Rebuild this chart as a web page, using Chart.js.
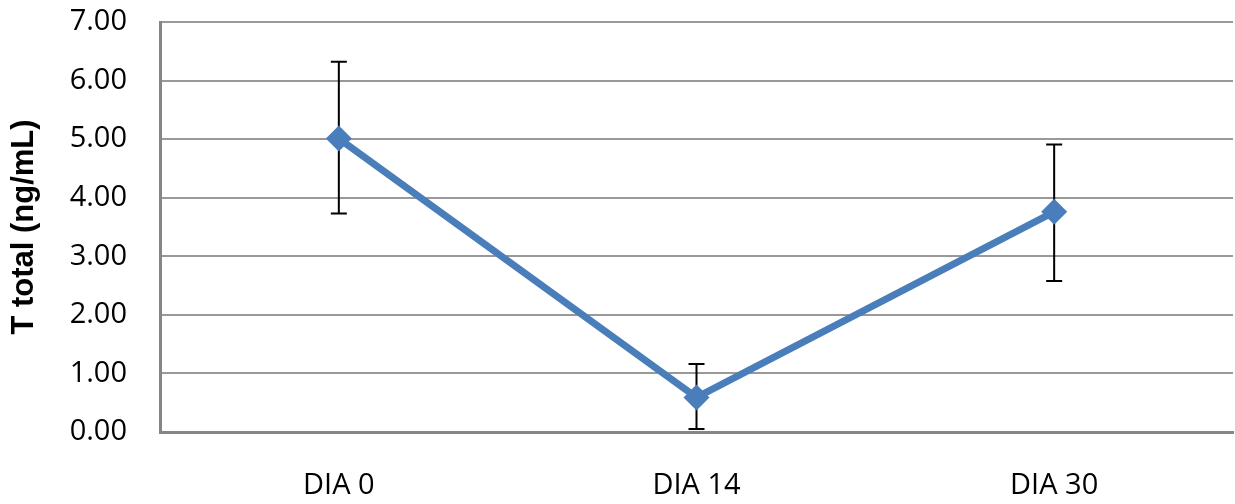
<!DOCTYPE html>
<html>
<head>
<meta charset="utf-8">
<script src="https://cdn.jsdelivr.net/npm/chart.js@4.4.0/dist/chart.umd.min.js"></script>
<style>
  html, body { margin: 0; padding: 0; background: #fff; }
  #wrap { width: 1235px; height: 504px; }
</style>
</head>
<body>
<div id="wrap"><canvas id="chart"></canvas></div>
<script>
const days = ['DIA 0', 'DIA 14', 'DIA 30'];
const meanValues = [5.01, 0.59, 3.76];
const upperValues = [6.32, 1.16, 4.91];
const lowerValues = [3.73, 0.05, 2.58];
const yTicks = [0, 1, 2, 3, 4, 5, 6, 7];

// draws the error bars under the line using the chart's own scales
const errorBars = {
    id: 'errorBars',
    beforeDatasetsDraw(chart) {
        const ctx = chart.ctx;
        const x = chart.scales.x;
        const y = chart.scales.y;
        ctx.save();
        ctx.strokeStyle = '#000';
        ctx.lineWidth = 2;
        days.forEach((d, i) => {
            const px = x.getPixelForValue(i);
            const top = y.getPixelForValue(upperValues[i]);
            const bot = y.getPixelForValue(lowerValues[i]);
            ctx.beginPath();
            ctx.moveTo(px, top);
            ctx.lineTo(px, bot);
            ctx.moveTo(px - 8, top);
            ctx.lineTo(px + 8, top);
            ctx.moveTo(px - 8, bot);
            ctx.lineTo(px + 8, bot);
            ctx.stroke();
        });
        ctx.restore();
    }
};

new Chart(document.getElementById('chart'), {
    type: 'line',
    data: {
        labels: days,
        datasets: [{
            data: meanValues,
            borderColor: '#4a7ebb',
            backgroundColor: '#4a7ebb',
            borderWidth: 7,
            pointStyle: 'rectRot',
            pointRadius: 13,
            pointBorderWidth: 0,
            tension: 0
        }]
    },
    options: {
        responsive: true,
        maintainAspectRatio: false,
        animation: false,
        layout: { autoPadding: false, padding: { top: 22, right: 2, left: 0, bottom: 0 } },
        plugins: { legend: { display: false }, tooltip: { enabled: false } },
        scales: {
            x: {
                offset: true,
                grid: { display: false, drawTicks: false },
                border: { color: '#868686', width: 3 },
                ticks: {
                    color: '#000',
                    padding: 36,
                    font: { family: 'Open Sans', size: 29 }
                },
                afterFit(scale) {
                    scale.height = 72;
                    scale.paddingLeft = 0;
                    scale.paddingRight = 0;
                }
            },
            y: {
                min: 0,
                max: 7,
                afterBuildTicks(scale) { scale.ticks = yTicks.map(v => ({ value: v })); },
                grid: { color: '#999', lineWidth: 2, drawTicks: false },
                border: { color: '#868686', width: 3 },
                ticks: {
                    color: '#000',
                    padding: 33,
                    font: { family: 'Open Sans', size: 29 },
                    callback: v => v.toFixed(2)
                },
                title: {
                    display: true,
                    text: 'T total (ng/mL)',
                    color: '#000',
                    font: { family: 'Liberation Sans', size: 31, weight: 'bold' },
                    padding: { top: 6, bottom: 0 }
                },
                afterFit(scale) {
                    scale.width = 160;
                    scale.paddingTop = 0;
                    scale.paddingBottom = 0;
                }
            }
        }
    },
    plugins: [errorBars]
});
</script>
</body>
</html>
